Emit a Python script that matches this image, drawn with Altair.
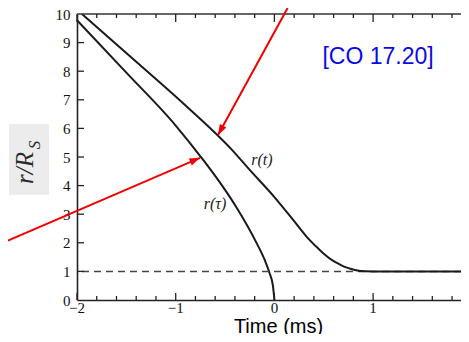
import math
import altair as alt
import pandas as pd

# ---------------- data ----------------
# proper-time curve r(tau)
tau_t = [-2.0, -1.5, -1.0, -0.74, -0.5, -0.39, -0.18, -0.098, -0.05, -0.015, 0.0]
tau_r = [9.78, 7.95, 6.1, 4.98, 3.85, 3.27, 1.99, 1.4, 0.95, 0.5, 0.0]

# coordinate-time curve r(t)
crd_t = [-1.95, -1.42, -0.9, -0.43, -0.25, 0.0, 0.19, 0.33, 0.45, 0.5, 0.6,
         0.665, 0.72, 0.77, 0.84, 0.92, 1.0, 1.3, 1.97]
crd_r = [10.0, 8.39, 6.8, 5.25, 4.55, 3.6, 2.8, 2.2, 1.78, 1.62, 1.36,
         1.24, 1.15, 1.09, 1.03, 1.005, 1.0, 1.0, 1.0]

horizon_r = [1.0]

# tick values and labels
x_major = [-2, -1, 0, 1]
x_major_labels = ["\u22122", "\u22121", "0", "1"]
x_minor = [-1.8, -1.6, -1.4, -1.2, -0.8, -0.6, -0.4, -0.2,
           0.2, 0.4, 0.6, 0.8, 1.2, 1.4, 1.6, 1.8]
y_major = [1, 2, 3, 4, 5, 6, 7, 8, 9]
y_labels = [0, 1, 2, 3, 4, 5, 6, 7, 8, 9, 10]

# annotations
ann_text = ["r(t)", "r(τ)"]
ann_t = [-0.126, -0.602]
ann_r = [4.9, 3.36]

ref_text = ["[CO 17.20]"]
ref_t = [1.05]
ref_r = [8.49]

# red arrows: tail -> head (data units)
arr_tail_t = [0.134, -2.70]
arr_tail_r = [10.21, 2.08]
arr_head_t = [-0.571, -0.754]
arr_head_r = [5.77, 4.97]

# ---------------- layout ----------------
W, H = 384, 286
XDOM = [-2, -2 + W / 98.7]
YDOM = [0, 10]
xs = alt.Scale(domain=XDOM, nice=False, zero=False)
ys = alt.Scale(domain=YDOM, nice=False, zero=False)

px_x = W / (XDOM[1] - XDOM[0])
px_y = H / (YDOM[1] - YDOM[0])
arr_angle = []
for a, b, c, d in zip(arr_tail_t, arr_tail_r, arr_head_t, arr_head_r):
    dx = (c - a) * px_x
    dy = -(d - b) * px_y
    arr_angle.append(math.degrees(math.atan2(dx, -dy)) % 360)

SERIF = "Liberation Serif"
SANS = "Liberation Sans"

tau_df = pd.DataFrame({"t": tau_t, "r": tau_r})
crd_df = pd.DataFrame({"t": crd_t, "r": crd_r})
hor_df = pd.DataFrame({"r": horizon_r})
one = pd.DataFrame({"k": [0]})

x_axis = alt.Axis(values=x_major, labels=False, title="Time (ms)",
                  titleX=201, titleY=32,
                  ticks=False, grid=False, domainColor="#222", domainWidth=1.6,
                  titleFont=SANS, titleFontSize=20,
                  titleFontWeight="normal", titleColor="#000",
                  titleBaseline="alphabetic")
y_axis = alt.Axis(values=y_labels, format="d", title=None, labelOverlap=False,
                  ticks=False, grid=False, domainColor="#222", domainWidth=1.6,
                  labelFont=SERIF, labelFontSize=15, labelColor="#111",
                  labelPadding=7)


def X(field):
    return alt.X(field, type="quantitative", scale=xs, axis=x_axis)


def Y(field):
    return alt.Y(field, type="quantitative", scale=ys, axis=y_axis)


curve_tau = alt.Chart(tau_df).mark_line(color="#1a1a1a", strokeWidth=2,
                                        interpolate="monotone").encode(
    x=X("t"), y=Y("r"))
curve_crd = alt.Chart(crd_df).mark_line(color="#1a1a1a", strokeWidth=2,
                                        interpolate="monotone", clip=True).encode(
    x=X("t"), y=Y("r"))
horizon = alt.Chart(hor_df).mark_rule(color="#444", strokeWidth=1.5,
                                      strokeDash=[7, 5]).encode(y=Y("r"))

top_frame = alt.Chart(one).mark_rule(color="#333", strokeWidth=1.5).encode(
    x=alt.value(0), x2=alt.value(W), y=alt.value(0))

xmaj_df = pd.DataFrame({"v": x_major, "lab": x_major_labels})
xmin_df = pd.DataFrame({"v": x_minor})
ymaj_df = pd.DataFrame({"v": y_major})

tick_style = dict(color="#222", strokeWidth=1.3)
bot_maj = alt.Chart(xmaj_df).mark_rule(**tick_style).encode(
    x=X("v"), y=alt.value(H), y2=alt.value(H - 7))
bot_min = alt.Chart(xmin_df).mark_rule(**tick_style).encode(
    x=X("v"), y=alt.value(H), y2=alt.value(H - 4))
top_maj = alt.Chart(xmaj_df).mark_rule(**tick_style).encode(
    x=X("v"), y=alt.value(0), y2=alt.value(8))
top_min = alt.Chart(xmin_df).mark_rule(**tick_style).encode(
    x=X("v"), y=alt.value(0), y2=alt.value(4))
left_t = alt.Chart(ymaj_df).mark_rule(**tick_style).encode(
    y=Y("v"), x=alt.value(0), x2=alt.value(7))

x_lab = alt.Chart(xmaj_df).mark_text(font=SERIF, fontSize=15, color="#111",
                                     align="center", baseline="middle").encode(
    x=X("v"), y=alt.value(H + 8), text="lab:N")

ybox = alt.Chart(one).mark_rect(color="#ececec").encode(
    x=alt.value(-68), x2=alt.value(-28), y=alt.value(110), y2=alt.value(181))
ytitle_main = alt.Chart(one).mark_text(
    text="r/R", font=SERIF, fontStyle="italic", fontSize=25, angle=270,
    align="center", baseline="alphabetic", color="#2a2a2a").encode(
    x=alt.value(-44), y=alt.value(154))
ytitle_sub = alt.Chart(one).mark_text(
    text="S", font=SERIF, fontStyle="italic", fontSize=17, angle=270,
    align="center", baseline="alphabetic", color="#2a2a2a").encode(
    x=alt.value(-37), y=alt.value(131))

ann_df = pd.DataFrame({"label": ann_text, "t": ann_t, "r": ann_r})
ann = alt.Chart(ann_df).mark_text(font=SERIF, fontStyle="italic", fontSize=16,
                                  color="#222", align="center",
                                  baseline="middle").encode(
    x=X("t"), y=Y("r"), text="label:N")

ref_df = pd.DataFrame({"label": ref_text, "t": ref_t, "r": ref_r})
ref = alt.Chart(ref_df).mark_text(font=SANS, fontSize=23, color="#0a0ae6",
                                  align="center", baseline="middle").encode(
    x=X("t"), y=Y("r"), text="label:N")

arr_df = pd.DataFrame({"tt": arr_tail_t, "tr": arr_tail_r,
                       "ht": arr_head_t, "hr": arr_head_r, "ang": arr_angle})
arr_line = alt.Chart(arr_df).mark_rule(color="#f00000", strokeWidth=2).encode(
    x=X("tt"), y=Y("tr"), x2="ht:Q", y2="hr:Q")
arr_head = alt.Chart(arr_df).mark_point(
    shape="M0,0L0.75,2.1L-0.75,2.1Z", filled=True, size=100,
    color="#f00000", opacity=1, strokeWidth=0).encode(
    x=X("ht"), y=Y("hr"), angle=alt.Angle("ang:Q", scale=None))

chart = alt.layer(
    curve_tau, ybox, ytitle_main, ytitle_sub, horizon, curve_crd,
    top_frame, bot_maj, bot_min, top_maj, top_min, left_t,
    ann, ref, arr_line, arr_head, x_lab,
).properties(
    width=W, height=H, autosize="none",
    padding={"left": 69, "top": 6, "right": 0, "bottom": 34},
    background="white",
).configure_view(strokeWidth=0)

chart.save("out.html", embed_options={"renderer": "svg", "actions": False})
